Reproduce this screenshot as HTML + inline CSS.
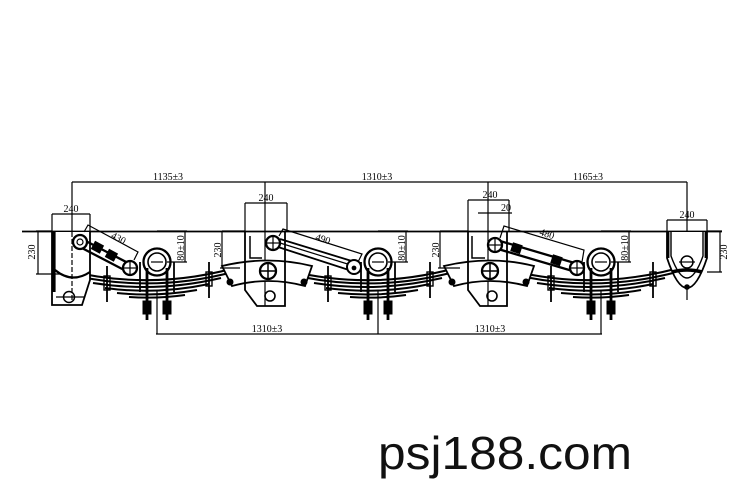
<!DOCTYPE html>
<html><head><meta charset="utf-8"><style>
html,body{margin:0;padding:0;background:#fff}
svg{display:block}
text{font-family:"Liberation Serif",serif;font-size:10px;fill:#000}
.big{font-family:"Liberation Sans",sans-serif;font-size:46px;fill:#111}
</style></head><body>
<svg width="750" height="500" viewBox="0 0 750 500" xmlns="http://www.w3.org/2000/svg">
<defs>
<g id="unit" fill="none" stroke="#000">
 <g stroke-width="2">
  <path d="M-88 271 Q0 292 88 265"/>
  <path d="M-76 277 Q0 292 76 272"/>
  <path d="M-64 283 Q0 293 64 278"/>
  <path d="M-52 288 Q0 295 52 284"/>
  <path d="M-40 293 Q0 297 40 290"/>
  <path d="M-28 297 Q0 299 28 295"/>
 </g>
 <circle cx="0" cy="262" r="13.5" stroke-width="2.3" fill="#fff"/>
 <circle cx="0" cy="262" r="9" stroke-width="1.6"/>
 <line x1="-17" y1="262" x2="-17" y2="292" stroke-width="1.8"/>
 <line x1="17" y1="262" x2="17" y2="292" stroke-width="1.8"/>
 <line x1="-10" y1="268" x2="-10" y2="320" stroke-width="2.8"/>
 <line x1="10" y1="268" x2="10" y2="320" stroke-width="2.8"/>
 <rect x="-14" y="301" width="8" height="13" fill="#000"/>
 <rect x="6" y="301" width="8" height="13" fill="#000"/>
 <line x1="-6" y1="262" x2="6" y2="262" stroke-width="1.2"/>
 <line x1="-50" y1="266" x2="-50" y2="302" stroke-width="1.8"/>
 <rect x="-53" y="276" width="6" height="14" stroke-width="1.4"/>
 <line x1="52" y1="262" x2="52" y2="298" stroke-width="1.8"/>
 <rect x="49" y="272" width="6" height="14" stroke-width="1.4"/>
 <line x1="0" y1="231" x2="30" y2="231" stroke-width="1.2"/>
 <line x1="28" y1="231" x2="28" y2="262" stroke-width="1.2"/>
 <line x1="10" y1="262" x2="30" y2="262" stroke-width="1.2"/>
</g>
<g id="eq" fill="none" stroke="#000">
 <path d="M-46 266 Q0 255 44 266 L37 286 Q0 276 -36 286 Z" stroke-width="1.8" fill="#fff"/>
 <circle cx="-38" cy="282" r="3" fill="#000"/>
 <circle cx="36" cy="282" r="3" fill="#000"/>
 <circle cx="0" cy="271" r="8" stroke-width="2.3" fill="#fff"/>
 <line x1="-8" y1="271" x2="8" y2="271" stroke-width="1.5"/><line x1="0" y1="263" x2="0" y2="279" stroke-width="1.5"/>
 <circle cx="2" cy="296" r="5" stroke-width="1.6"/>
</g>
</defs>

<g stroke="#000" fill="none" stroke-width="1.2">
 <line x1="22" y1="231.5" x2="722" y2="231.5" stroke-width="1.8"/>
 <line x1="72" y1="182" x2="687" y2="182"/>
 <line x1="72" y1="182" x2="72" y2="300"/>
 <line x1="265" y1="182" x2="265" y2="306"/>
 <line x1="488" y1="182" x2="488" y2="306"/>
 <line x1="687" y1="182" x2="687" y2="300"/>
 <line x1="156" y1="334" x2="602" y2="334"/>
 <line x1="157" y1="290" x2="157" y2="334"/>
 <line x1="378" y1="290" x2="378" y2="334"/>
 <line x1="601" y1="290" x2="601" y2="334"/>
</g>

<use href="#unit" x="157"/>
<use href="#unit" x="378"/>
<use href="#unit" x="601"/>
<use href="#eq" x="268"/>
<use href="#eq" x="490"/>

<g stroke="#000" fill="none" stroke-width="1.2">
 <path d="M52 214 L90 214 M52 214 L52 232 M90 214 L90 232"/>
 <path d="M52 232 L52 305 L82 305 L90 280 L90 232" stroke-width="1.8" fill="#fff"/>
 <line x1="54" y1="232" x2="54" y2="292" stroke-width="3.2"/>
 <path d="M55 270 Q72 284 90 272" stroke-width="2.2"/>
 <line x1="72" y1="232" x2="72" y2="300" stroke-dasharray="5 2"/>
 <circle cx="69" cy="297" r="5.5" stroke-width="1.5"/>
 <line x1="56" y1="297" x2="84" y2="297"/>
 <path d="M36 231 L52 231 M36 274 L60 274 M38 231 L38 274"/>
 <line x1="80" y1="238" x2="130" y2="264" stroke-width="2.3"/>
 <line x1="78" y1="246" x2="128" y2="272" stroke-width="2.3"/>
 <rect x="93" y="243" width="9" height="8" fill="#000" transform="rotate(28 97 247)"/>
 <rect x="107" y="251" width="9" height="8" fill="#000" transform="rotate(28 111 255)"/>
 <circle cx="80" cy="242" r="7" stroke-width="2.3" fill="#fff"/>
 <circle cx="80" cy="242" r="3"/>
 <circle cx="130" cy="268" r="7" stroke-width="2.3" fill="#fff"/>
 <line x1="123" y1="268" x2="137" y2="268"/><line x1="130" y1="261" x2="130" y2="275"/>
 <path d="M84 232 L88 225 L138 252 L134 260"/>
 <path d="M245 203 L287 203 M245 203 L245 232 M287 203 L287 232"/>
 <path d="M245 232 L245 290 L257 306 L285 306 L285 232" stroke-width="1.8"/>
 <path d="M250 236 L250 258 L262 258" stroke-width="1.5"/>
 <line x1="280" y1="239" x2="355" y2="262" stroke-width="1.8"/>
 <line x1="278" y1="247" x2="352" y2="271" stroke-width="1.8"/>
 <line x1="280" y1="243" x2="354" y2="266" stroke-width="1.2"/>
 <circle cx="273" cy="243" r="7" stroke-width="2.3" fill="#fff"/>
 <line x1="266" y1="243" x2="280" y2="243"/><line x1="273" y1="236" x2="273" y2="250"/>
 <circle cx="354" cy="267" r="7" stroke-width="2" fill="#fff"/>
 <circle cx="354" cy="268" r="1.8" fill="#000"/>
 <path d="M279 236 L283 229 L362 254 L358 262"/>
 <path d="M222 231 L245 231 M220 268 L240 268 M222 231 L222 268"/>
 <path d="M468 200 L509 200 M468 200 L468 232 M509 200 L509 232"/>
 <path d="M478 213 L512 213"/>
 <path d="M468 232 L468 290 L480 306 L507 306 L507 232" stroke-width="1.8"/>
 <path d="M472 236 L472 258 L485 258" stroke-width="1.5"/>
 <line x1="500" y1="241" x2="578" y2="264" stroke-width="2.3"/>
 <line x1="498" y1="249" x2="576" y2="272" stroke-width="2.3"/>
 <rect x="512" y="244" width="9" height="8" fill="#000" transform="rotate(18 516 248)"/>
 <rect x="552" y="256" width="9" height="8" fill="#000" transform="rotate(18 556 260)"/>
 <circle cx="495" cy="245" r="7" stroke-width="2.3" fill="#fff"/>
 <line x1="488" y1="245" x2="502" y2="245"/><line x1="495" y1="238" x2="495" y2="252"/>
 <circle cx="577" cy="268" r="7" stroke-width="2.3" fill="#fff"/>
 <line x1="570" y1="268" x2="584" y2="268"/><line x1="577" y1="261" x2="577" y2="275"/>
 <path d="M500 238 L504 226 L584 250 L582 262"/>
 <path d="M440 231 L468 231 M438 268 L460 268 M440 231 L440 268"/>
 <path d="M667 220 L707 220 M667 220 L667 232 M707 220 L707 232"/>
 <path d="M667 232 L667 258 Q687 318 707 258 L707 232" stroke-width="1.8" fill="#fff"/>
 <path d="M671 232 L671 256 Q687 300 703 256 L703 232" stroke-width="1.4"/>
 <line x1="668" y1="232" x2="668" y2="258" stroke-width="2.8"/>
 <line x1="706" y1="232" x2="706" y2="258" stroke-width="2.8"/>
 <circle cx="687" cy="262" r="6" stroke-width="1.5"/>
 <line x1="679" y1="262" x2="695" y2="262"/>
 <path d="M672 272 Q687 268 702 272" stroke-width="3.5"/>
 <circle cx="687" cy="287" r="2.2" fill="#000"/>
 <path d="M707 231 L722 231 M707 272 L722 272 M720 231 L720 272"/>
</g>

<g>
 <text x="168" y="180" text-anchor="middle">1135±3</text>
 <text x="377" y="180" text-anchor="middle">1310±3</text>
 <text x="588" y="180" text-anchor="middle">1165±3</text>
 <text x="267" y="332" text-anchor="middle">1310±3</text>
 <text x="490" y="332" text-anchor="middle">1310±3</text>
 <text x="71" y="212" text-anchor="middle">240</text>
 <text x="266" y="201" text-anchor="middle">240</text>
 <text x="490" y="198" text-anchor="middle">240</text>
 <text x="506" y="211" text-anchor="middle">20</text>
 <text x="687" y="218" text-anchor="middle">240</text>
 <text transform="translate(35 252) rotate(-90)" text-anchor="middle">230</text>
 <text transform="translate(221 250) rotate(-90)" text-anchor="middle">230</text>
 <text transform="translate(439 250) rotate(-90)" text-anchor="middle">230</text>
 <text transform="translate(727 252) rotate(-90)" text-anchor="middle">230</text>
 <text transform="translate(184 248) rotate(-90)" text-anchor="middle">80±10</text>
 <text transform="translate(405 248) rotate(-90)" text-anchor="middle">80±10</text>
 <text transform="translate(628 248) rotate(-90)" text-anchor="middle">80±10</text>
 <text transform="translate(117 241) rotate(28)" text-anchor="middle">430</text>
 <text transform="translate(322 242) rotate(18)" text-anchor="middle">490</text>
 <text transform="translate(546 237) rotate(18)" text-anchor="middle">480</text>
 <text class="big" x="378" y="469" textLength="254" lengthAdjust="spacingAndGlyphs">psj188.com</text>
</g>
</svg>
</body></html>
